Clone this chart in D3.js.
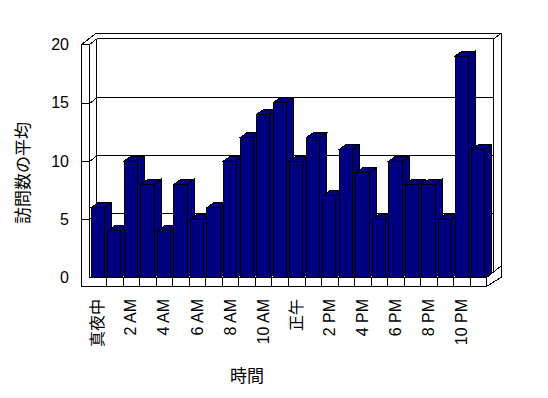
<!DOCTYPE html>
<html>
<head>
<meta charset="utf-8">
<script src="https://cdn.jsdelivr.net/npm/d3@7"></script>
<style>
  body { margin: 0; background: #fff; }
  text { font-family: "Liberation Sans", Arial, "Noto Sans CJK JP", sans-serif; fill: #000; }
</style>
</head>
<body>
<div id="chart"></div>
<script>
// Chart data
const hours = ["真夜中", "1 AM", "2 AM", "3 AM", "4 AM", "5 AM", "6 AM", "7 AM", "8 AM", "9 AM", "10 AM", "11 AM",
    "正午", "1 PM", "2 PM", "3 PM", "4 PM", "5 PM", "6 PM", "7 PM", "8 PM", "9 PM", "10 PM", "11 PM"];
const visits = [6, 4, 10, 8, 4, 8, 5, 6, 10, 12, 14, 15, 10, 12, 7, 11, 9, 5, 10, 8, 8, 5, 19, 11];
const yTicks = [0, 5, 10, 15, 20];
const xLabels = ["真夜中", "2 AM", "4 AM", "6 AM", "8 AM", "10 AM", "正午", "2 PM", "4 PM", "6 PM", "8 PM", "10 PM"];

// Layout (front plane of the 3D box)
const W = 548, H = 398;
const plotL = 89.5, plotR = 486.5, plotB = 277.5, plotT = 44.5;
const wallX = 81.5;          // outer face of the left wall
const floorBottom = 286.5;   // bottom of the floor slab
const dx = 7.3, dy = -5.6;   // depth of the plot area
const bdx = 7, bdy = -5;     // depth of each column

const svg = d3.select("#chart").append("svg")
    .attr("width", W)
    .attr("height", H)
    .style("shape-rendering", "crispEdges");

const x = d3.scaleBand()
    .domain(hours)
    .range([plotL, plotR])
    .paddingInner(0.2)
    .paddingOuter(0.1);

const y = d3.scaleLinear()
    .domain([0, 20])
    .range([plotB, plotT]);

const line = (x1, y1, x2, y2) => svg.append("line")
    .attr("x1", x1).attr("y1", y1).attr("x2", x2).attr("y2", y2)
    .attr("stroke", "#000").attr("stroke-width", 1);

// Outer outline of walls + floor
const outline = [
    [wallX, plotT], [wallX + 2 * dx, plotT + 2 * dy], [plotR + 2 * dx, plotT + 2 * dy],
    [plotR + 2 * dx, floorBottom + 2 * dy + 2], [plotR, floorBottom], [wallX, floorBottom]
];
svg.append("polygon")
    .attr("points", outline.map(p => p.join(",")).join(" "))
    .attr("fill", "#fff")
    .attr("stroke", "#000");

// Back wall face
const bwL = plotL + dx, bwR = plotR + dx, bwT = plotT + dy, bwB = plotB + dy;
line(bwL, bwT, bwR, bwT);
line(bwL, bwT, bwL, bwB);
line(bwR, bwT, bwR, bwB);
line(bwR, bwT, plotR + 2 * dx, plotT + 2 * dy);
line(bwR, bwB, plotR + 2 * dx, bwB - 6);

// Left wall front face
line(plotL, plotT, plotL, plotB);
line(wallX, plotT, plotL, plotT);
line(plotL, plotT, bwL, bwT);

// Floor front face and dividers
line(plotL, plotB, plotR, plotB);
line(plotR, plotB, plotR, floorBottom);
line(plotR, plotB, bwR, bwB);
const step = x.step(), pad = step * x.paddingInner() / 2;
hours.slice(1).forEach(h => {
    const bx = Math.round(x(h) - pad) + 0.5;
    line(bx, plotB, bx, floorBottom);
});

// Gridlines with ticks on the left wall
yTicks.filter(v => v > 0 && v < 20).forEach(v => {
    const yy = Math.round(y(v)) + 0.5;
    line(wallX, yy, plotL, yy);
    line(plotL, yy, bwL, yy + dy);
    line(bwL, yy + dy, bwR, yy + dy);
});

// Y tick labels
svg.selectAll(".ytick")
    .data(yTicks)
    .enter()
    .append("text")
    .attr("x", 69)
    .attr("y", d => y(d))
    .attr("text-anchor", "end")
    .attr("dominant-baseline", "central")
    .style("font-size", "16px")
    .text(d => d);

// Columns, drawn left to right so later ones overlap earlier sides
const bw = x.bandwidth();
const bars = svg.selectAll(".bar")
    .data(hours.map((h, i) => ({ hour: h, value: visits[i] })))
    .enter()
    .append("g")
    .attr("class", "bar");

bars.append("polygon")
    .attr("points", d => {
        const x0 = x(d.hour) + bw, yt = y(d.value);
        return [[x0, yt], [x0 + bdx, yt + bdy], [x0 + bdx, plotB + bdy], [x0, plotB]].map(p => p.join(",")).join(" ");
    })
    .attr("fill", "#000080")
    .attr("stroke", "#000");

bars.append("polygon")
    .attr("points", d => {
        const x0 = x(d.hour), yt = y(d.value);
        return [[x0, yt], [x0 + bdx, yt + bdy], [x0 + bw + bdx, yt + bdy], [x0 + bw, yt]].map(p => p.join(",")).join(" ");
    })
    .attr("fill", "#000080")
    .attr("stroke", "#000");

bars.append("rect")
    .attr("x", d => x(d.hour))
    .attr("y", d => y(d.value))
    .attr("width", bw)
    .attr("height", d => plotB - y(d.value))
    .attr("fill", "#000080")
    .attr("stroke", "#000");

// X tick labels (every other hour), rotated
svg.selectAll(".xtick")
    .data(xLabels)
    .enter()
    .append("text")
    .attr("transform", d => `translate(${x(d) + bw / 2},299) rotate(-90)`)
    .attr("text-anchor", "end")
    .attr("dominant-baseline", "central")
    .style("font-size", "16px")
    .text(d => d);

// Axis titles
svg.append("text")
    .attr("transform", "translate(23,173) rotate(-90)")
    .attr("text-anchor", "middle")
    .attr("dominant-baseline", "central")
    .style("font-size", "17px")
    .text("訪問数の平均");

svg.append("text")
    .attr("x", 247)
    .attr("y", 376)
    .attr("text-anchor", "middle")
    .attr("dominant-baseline", "central")
    .style("font-size", "17px")
    .text("時間");
</script>
</body>
</html>
